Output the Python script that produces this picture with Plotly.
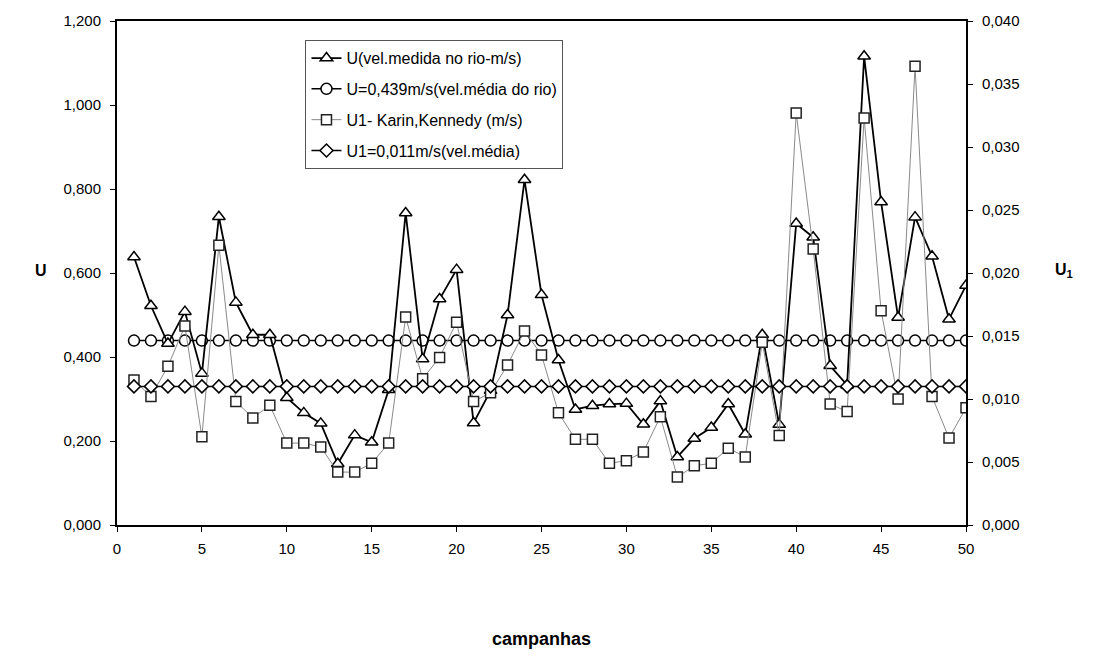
import plotly.graph_objects as go

# Campaign number (x axis)
campanhas = list(range(1, 51))

# U: measured river velocity (m/s), left axis
u_medida = [
    0.638, 0.522, 0.432, 0.508, 0.361, 0.734, 0.530, 0.453, 0.453, 0.303,
    0.267, 0.242, 0.146, 0.214, 0.197, 0.322, 0.743, 0.395, 0.538, 0.608,
    0.243, 0.320, 0.500, 0.822, 0.548, 0.393, 0.275, 0.284, 0.288, 0.289,
    0.240, 0.295, 0.162, 0.206, 0.232, 0.288, 0.216, 0.453, 0.239, 0.718,
    0.685, 0.379, 0.333, 1.116, 0.769, 0.494, 0.733, 0.640, 0.490, 0.570,
]

# U1: Karin-Kennedy velocity (m/s), right axis
u1_karin = [
    0.0115, 0.0102, 0.0126, 0.0158, 0.0070, 0.0222, 0.0098, 0.0085, 0.0095, 0.0065,
    0.0065, 0.0062, 0.0042, 0.0042, 0.0049, 0.0065, 0.0165, 0.0116, 0.0133, 0.0161,
    0.0098, 0.0105, 0.0127, 0.0154, 0.0135, 0.0089, 0.0068, 0.0068, 0.0049, 0.0051,
    0.0058, 0.0086, 0.0038, 0.0047, 0.0049, 0.0061, 0.0054, 0.0145, 0.0071, 0.0327,
    0.0219, 0.0096, 0.0090, 0.0323, 0.0170, 0.0100, 0.0364, 0.0102, 0.0069, 0.0093,
]

# Mean values
u_media = 0.439
u1_media = 0.011

# Axis ticks
x_ticks = list(range(0, 51, 5))
y_left_ticks = [0.0, 0.2, 0.4, 0.6, 0.8, 1.0, 1.2]
y_left_labels = ["0,000", "0,200", "0,400", "0,600", "0,800", "1,000", "1,200"]
y_right_ticks = [0.0, 0.005, 0.010, 0.015, 0.020, 0.025, 0.030, 0.035, 0.040]
y_right_labels = ["0,000", "0,005", "0,010", "0,015", "0,020", "0,025", "0,030", "0,035", "0,040"]

FONT = "Liberation Sans, Arial, sans-serif"

fig = go.Figure()

fig.add_trace(go.Scatter(
    x=campanhas, y=u1_karin, yaxis="y2", mode="lines+markers",
    name="U1- Karin,Kennedy (m/s)", legendgroup="c", legendrank=3,
    line=dict(color="#8a8a8a", width=1),
    marker=dict(symbol="square", size=10, color="white",
                line=dict(color="#222222", width=1.5)),
))
fig.add_trace(go.Scatter(
    x=campanhas, y=[u_media] * len(campanhas), mode="lines+markers",
    name="U=0,439m/s(vel.média do rio)", legendgroup="b", legendrank=2,
    line=dict(color="black", width=1.5),
    marker=dict(symbol="circle", size=11, color="white",
                line=dict(color="black", width=1.5)),
))
fig.add_trace(go.Scatter(
    x=campanhas, y=[u1_media] * len(campanhas), yaxis="y2", mode="lines+markers",
    name="U1=0,011m/s(vel.média)", legendgroup="d", legendrank=4,
    line=dict(color="black", width=1.5),
    marker=dict(symbol="diamond", size=10, color="white",
                line=dict(color="black", width=1.5)),
))
fig.add_trace(go.Scatter(
    x=campanhas, y=u_medida, mode="lines+markers",
    name="U(vel.medida no rio-m/s)", legendgroup="a", legendrank=1,
    line=dict(color="black", width=1.8),
    marker=dict(symbol="triangle-up", size=11, color="white",
                line=dict(color="black", width=1.5)),
))

fig.update_layout(
    width=1098, height=660,
    margin=dict(l=117, r=132, t=16, b=135),
    paper_bgcolor="white", plot_bgcolor="white",
    font=dict(family=FONT, size=15, color="black"),
    showlegend=True,
    legend=dict(
        x=0.222, y=0.962, xanchor="left", yanchor="top",
        bgcolor="white", bordercolor="#555555", borderwidth=1,
        font=dict(family=FONT, size=16, color="black"),
        tracegroupgap=7, traceorder="grouped",
    ),
    xaxis=dict(
        range=[0, 50], tickvals=x_ticks, ticktext=[str(v) for v in x_ticks],
        showgrid=False, zeroline=False,
        showline=True, linecolor="black", linewidth=2, mirror=True,
        ticks="outside", ticklen=5, tickcolor="black", tickwidth=1,
        tickfont=dict(family=FONT, size=15), ticklabelstandoff=4,
        title=dict(text="<b>campanhas</b>", font=dict(family=FONT, size=18), standoff=76),
    ),
    yaxis=dict(
        range=[0, 1.2], tickvals=y_left_ticks, ticktext=y_left_labels,
        showgrid=False, zeroline=False,
        showline=True, linecolor="black", linewidth=2,
        ticks="outside", ticklen=5, tickcolor="black", tickwidth=1,
        tickfont=dict(family=FONT, size=15), ticklabelstandoff=6,
    ),
    yaxis2=dict(
        range=[0, 0.04], tickvals=y_right_ticks, ticktext=y_right_labels,
        overlaying="y", side="right",
        showgrid=False, zeroline=False,
        showline=True, linecolor="black", linewidth=2,
        ticks="outside", ticklen=5, tickcolor="black", tickwidth=1,
        tickfont=dict(family=FONT, size=15), ticklabelstandoff=6,
    ),
    annotations=[
        dict(text="<b>U</b>", xref="paper", yref="paper", x=-0.09, y=0.505,
             xanchor="center", yanchor="middle", showarrow=False,
             font=dict(family=FONT, size=16)),
        dict(text="<b>U<sub>1</sub></b>", xref="paper", yref="paper", x=1.115, y=0.505,
             xanchor="center", yanchor="middle", showarrow=False,
             font=dict(family=FONT, size=16)),
    ],
)

fig.write_html("out.html")
